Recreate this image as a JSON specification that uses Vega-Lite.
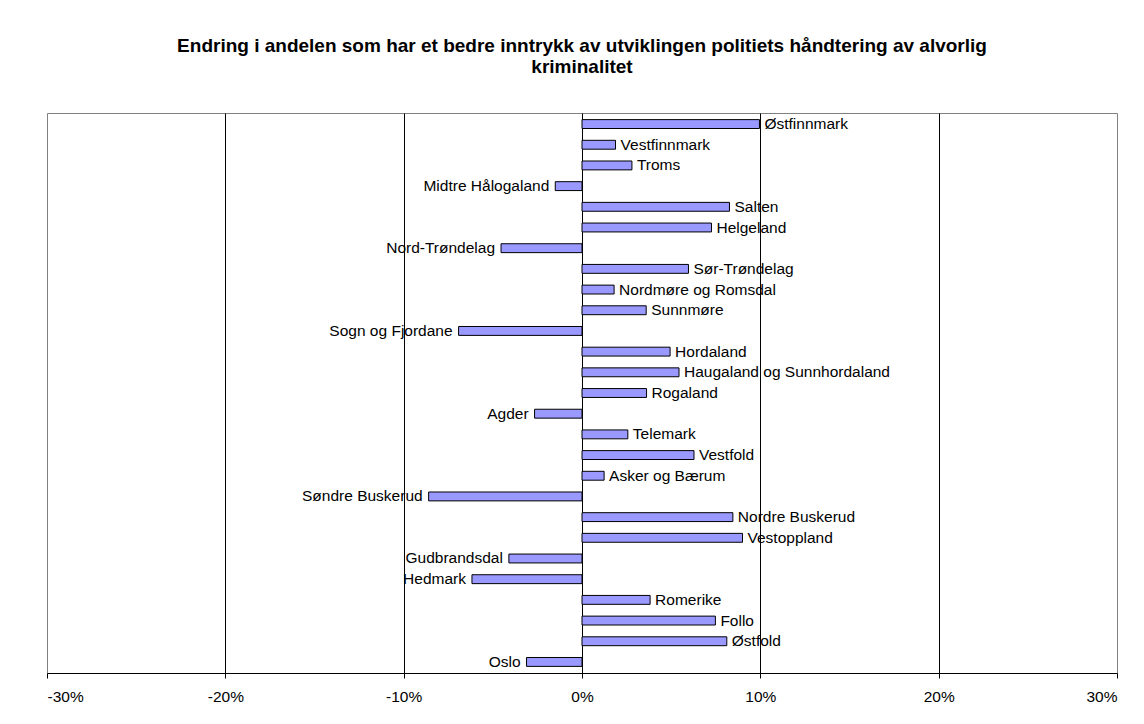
{
  "$schema": "https://vega.github.io/schema/vega-lite/v6.json",
  "width": 1070,
  "height": 560,
  "autosize": "none",
  "padding": {"left": 47, "top": 113, "right": 27, "bottom": 51},
  "background": "white",
  "title": {
    "text": ["Endring i andelen som har et bedre inntrykk av utviklingen politiets håndtering av alvorlig", "kriminalitet"],
    "anchor": "middle",
    "font": "Liberation Sans",
    "fontSize": 19,
    "fontWeight": "bold",
    "color": "black",
    "lineHeight": 21,
    "offset": 36
  },
  "config": {
    "view": {"stroke": "#808080", "strokeWidth": 1},
    "font": "Liberation Sans"
  },
  "data": {
    "values": [
      {"region": "Østfinnmark", "v": 9.95},
      {"region": "Vestfinnmark", "v": 1.88},
      {"region": "Troms", "v": 2.8},
      {"region": "Midtre Hålogaland", "v": -1.5},
      {"region": "Salten", "v": 8.27},
      {"region": "Helgeland", "v": 7.26},
      {"region": "Nord-Trøndelag", "v": -4.54},
      {"region": "Sør-Trøndelag", "v": 5.97},
      {"region": "Nordmøre og Romsdal", "v": 1.8},
      {"region": "Sunnmøre", "v": 3.6},
      {"region": "Sogn og Fjordane", "v": -6.92},
      {"region": "Hordaland", "v": 4.94},
      {"region": "Haugaland og Sunnhordaland", "v": 5.44},
      {"region": "Rogaland", "v": 3.62},
      {"region": "Agder", "v": -2.66},
      {"region": "Telemark", "v": 2.57},
      {"region": "Vestfold", "v": 6.28},
      {"region": "Asker og Bærum", "v": 1.24},
      {"region": "Søndre Buskerud", "v": -8.6},
      {"region": "Nordre Buskerud", "v": 8.46},
      {"region": "Vestoppland", "v": 9.0},
      {"region": "Gudbrandsdal", "v": -4.1},
      {"region": "Hedmark", "v": -6.17},
      {"region": "Romerike", "v": 3.82},
      {"region": "Follo", "v": 7.48},
      {"region": "Østfold", "v": 8.12},
      {"region": "Oslo", "v": -3.11}
    ]
  },
  "encoding": {
    "y": {
      "field": "region",
      "type": "nominal",
      "sort": null,
      "scale": {"paddingInner": 0.57, "paddingOuter": 0.32},
      "axis": null
    }
  },
  "layer": [
    {
      "mark": {"type": "bar", "fill": "#9999FF", "stroke": "black", "strokeWidth": 1},
      "encoding": {
        "x": {
          "field": "v",
          "type": "quantitative",
          "scale": {"domain": [-30, 30], "nice": false},
          "axis": {
            "title": null,
            "values": [-30, -20, -10, 0, 10, 20, 30],
            "labelExpr": "datum.value + '%'",
            "labelFont": "Liberation Sans",
            "labelFontSize": 15.5,
            "labelColor": "black",
            "labelPadding": 11,
            "tickColor": "black",
            "tickSize": 5,
            "domainColor": "black",
            "grid": true,
            "gridColor": "black",
            "gridOpacity": {"condition": {"test": "abs(datum.value) == 30", "value": 0}, "value": 1}
          }
        }
      }
    },
    {
      "transform": [{"filter": "datum.v >= 0"}],
      "mark": {"type": "text", "align": "left", "baseline": "middle", "dx": 5, "fontSize": 15.5, "color": "black", "font": "Liberation Sans"},
      "encoding": {
        "x": {"field": "v", "type": "quantitative"},
        "text": {"field": "region"}
      }
    },
    {
      "transform": [{"filter": "datum.v < 0"}],
      "mark": {"type": "text", "align": "right", "baseline": "middle", "dx": -6, "fontSize": 15.5, "color": "black", "font": "Liberation Sans"},
      "encoding": {
        "x": {"field": "v", "type": "quantitative"},
        "text": {"field": "region"}
      }
    }
  ]
}
